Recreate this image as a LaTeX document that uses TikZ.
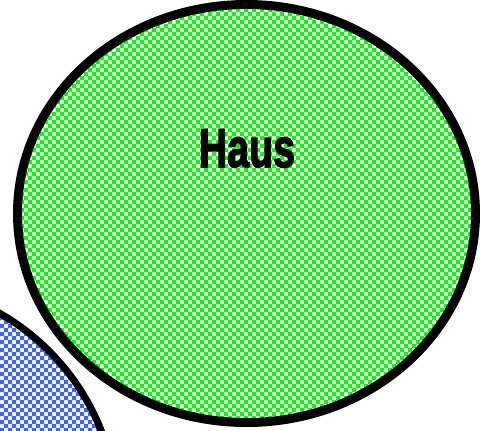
\documentclass[tikz,border=0pt]{standalone}
\usepackage{fontspec}
\newfontfamily\hausfont[FakeBold=3]{Liberation Sans Bold}
\definecolor{chkgreen}{RGB}{0,255,0}
\definecolor{chkblue}{RGB}{60,100,255}
\tikzset{
  outlinegreen/.style={draw=black, line width=6.75pt},
  outlineblue/.style={draw=black, line width=5.25pt},
  labeltext/.style={font=\hausfont\fontsize{41}{41}\selectfont, text=black, inner sep=0pt}
}
\newcommand{\checkfill}[1]{%
  \fill[#1, even odd rule]
    \foreach \k in {0,...,61} {(8*\k,0) rectangle (8*\k+4,432)}
    \foreach \m in {0,...,54} {(0,8*\m) rectangle (488,8*\m+4)};
}
\begin{document}
\begin{tikzpicture}[x=0.75pt,y=-0.75pt]
\useasboundingbox (0,0) rectangle (483,430);
\fill[white] (0,0) rectangle (483,430);
\begin{scope}
\clip (0,0) rectangle (483,430);
\begin{scope}
\clip (-115,515) circle [radius=232];
\checkfill{chkblue}
\end{scope}
\draw[outlineblue] (-115,515) circle [radius=232];
\begin{scope}
\clip (246.5,213.5) ellipse [x radius=229, y radius=209];
\checkfill{chkgreen}
\end{scope}
\draw[outlinegreen] (246.5,213.5) ellipse [x radius=229, y radius=209];
\end{scope}
\node[labeltext, anchor=base] (haus) at (247,167) {\scalebox{0.72}[1]{Haus}};
\end{tikzpicture}
\end{document}
